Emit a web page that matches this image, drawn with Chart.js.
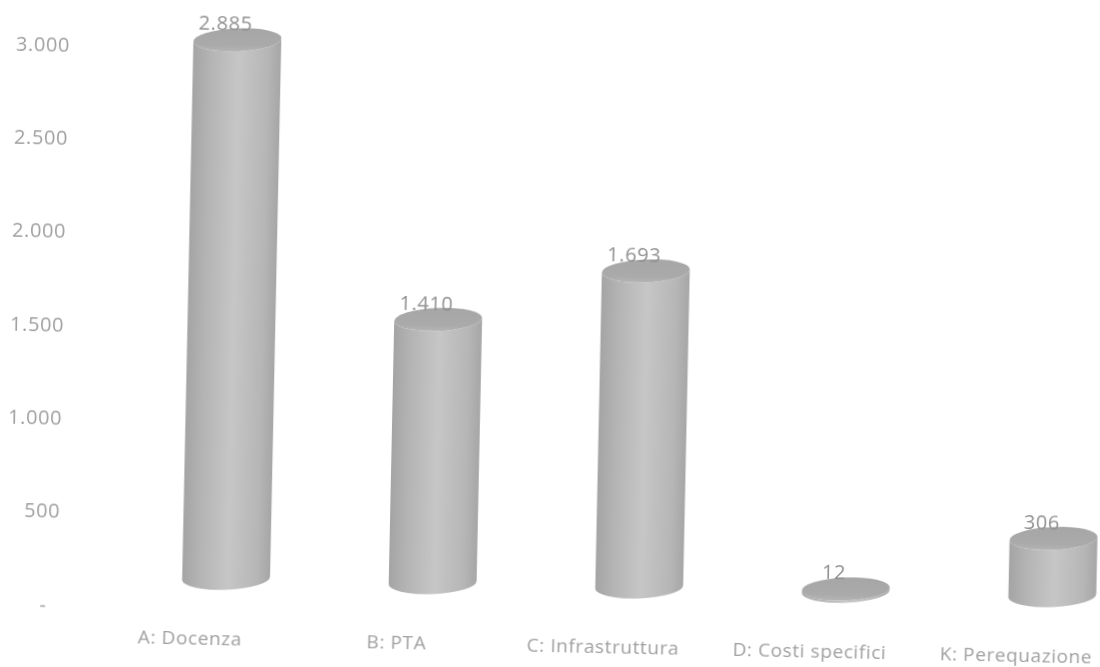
<!DOCTYPE html>
<html>
    <head>
        <meta charset="utf-8">
        <title>Costo standard</title>
        <style>
            html, body {
                margin: 0;
                width: 1100px;
                height: 667px;
                overflow: hidden;
                background: #fff;
            }
            /* the whole sheet leans a little clockwise */
            #costChart {
                display: block;
                transform-origin: 550px 333px;
                transform: rotate(1.2deg);
            }
        </style>
    </head>
    <body>
        <canvas id="costChart" width="1200" height="667"></canvas>
        <script src="https://cdnjs.cloudflare.com/ajax/libs/Chart.js/4.4.1/chart.umd.min.js"></script>
        <script>
            const categories = ["A: Docenza", "B: PTA", "C: Infrastruttura", "D: Costi specifici", "K: Perequazione"];
            const costValues = [2885, 1410, 1693, 12, 306];
            const axisMax = 3000;
            const axisStep = 500;

            const textColor = "#a0a0a0";
            const valueColor = "#909090";
            const fontFamily = "'Open Sans', 'Noto Sans', sans-serif";
            // cylinders sit back from the axes by this much
            const depthX = 35;
            const depthY = -31;
            const capRadiusY = 11.5;
            const capTilt = -3.5 * Math.PI / 180;

            function formatThousands(value) {
                return String(value).replace(/\B(?=(\d{3})+$)/g, ".");
            }

            function bodyGradient(ctx, left, right) {
                let g = ctx.createLinearGradient(left, 0, right, 0);
                g.addColorStop(0, "#a4a4a4");
                g.addColorStop(0.2, "#b4b4b4");
                g.addColorStop(0.52, "#c6c6c6");
                g.addColorStop(0.85, "#b6b6b6");
                g.addColorStop(1, "#a6a6a6");
                return g;
            }

            function capGradient(ctx, y) {
                let g = ctx.createLinearGradient(0, y - capRadiusY, 0, y + capRadiusY);
                g.addColorStop(0, "#a6a6a6");
                g.addColorStop(0.75, "#aaaaaa");
                g.addColorStop(1, "#b4b4b4");
                return g;
            }

            const cylinderPlugin = {
                id: "cylinders",
                beforeDraw(chart) {
                    chart.ctx.letterSpacing = "0.6px";
                },
                afterDatasetsDraw(chart) {
                    let ctx = chart.ctx;
                    let bars = chart.getDatasetMeta(0).data;
                    ctx.save();
                    ctx.translate(depthX, depthY);
                    bars.forEach((bar, i) => {
                        let rx = bar.width / 2;
                        ctx.beginPath();
                        ctx.ellipse(bar.x, bar.base, rx, capRadiusY, capTilt, 0, Math.PI);
                        ctx.ellipse(bar.x, bar.y, rx, capRadiusY, capTilt, Math.PI, 0, true);
                        ctx.closePath();
                        ctx.fillStyle = bodyGradient(ctx, bar.x - rx, bar.x + rx);
                        ctx.fill();

                        ctx.beginPath();
                        ctx.ellipse(bar.x, bar.y, rx, capRadiusY, capTilt, 0, Math.PI * 2);
                        ctx.fillStyle = capGradient(ctx, bar.y);
                        ctx.fill();

                        ctx.fillStyle = valueColor;
                        ctx.font = "20px " + fontFamily;
                        ctx.textAlign = "center";
                        ctx.textBaseline = "middle";
                        ctx.fillText(formatThousands(costValues[i]), bar.x - 12, bar.y - 15);
                    });
                    ctx.restore();
                }
            };

            new Chart(document.getElementById("costChart").getContext("2d"), {
                type: "bar",
                data: {
                    labels: categories,
                    datasets: [{
                        data: costValues,
                        backgroundColor: "transparent",
                        barThickness: 88,
                        clip: false
                    }]
                },
                plugins: [cylinderPlugin],
                options: {
                    responsive: false,
                    animation: false,
                    layout: { padding: { top: 56, right: 74 } },
                    plugins: {
                        legend: { display: false },
                        tooltip: { enabled: false }
                    },
                    scales: {
                        x: {
                            grid: { display: false },
                            border: { display: false },
                            ticks: {
                                color: textColor,
                                padding: 11,
                                maxRotation: 0,
                                font: { size: 19, family: fontFamily }
                            },
                            afterFit(scale) { scale.height = 51; }
                        },
                        y: {
                            min: 0,
                            max: axisMax,
                            grid: { display: false },
                            border: { display: false },
                            ticks: {
                                stepSize: axisStep,
                                color: textColor,
                                padding: 21,
                                font: { size: 20, family: fontFamily },
                                // accounting style zero, dash pulled in from the right edge
                                callback: v => v === 0 ? "-\u00a0\u00a0" : formatThousands(v)
                            },
                            afterFit(scale) { scale.width = 93; }
                        }
                    }
                }
            });
        </script>
    </body>
</html>
